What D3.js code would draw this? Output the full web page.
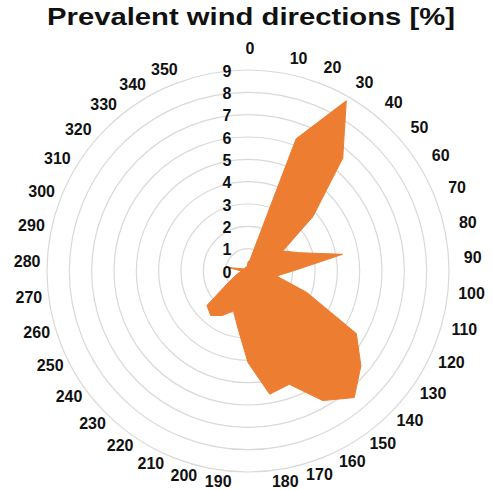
<!DOCTYPE html>
<html>
<head>
<meta charset="utf-8">
<script src="https://cdn.jsdelivr.net/npm/d3@7"></script>
<style>
  html, body { margin: 0; padding: 0; background: #fff; }
  svg { display: block; }
  text { font-family: "Liberation Sans", Arial, sans-serif; font-weight: bold; fill: #111; }
</style>
</head>
<body>
<svg id="chart" width="493" height="490"></svg>
<script>
// ---- data ----
const title = "Prevalent wind directions [%]";
const directions = [0,10,20,30,40,50,60,70,80,90,100,110,120,130,140,150,160,170,
                    180,190,200,210,220,230,240,250,260,270,280,290,300,310,320,330,340,350];
const directionLabels = directions.map(String);
const frequency = [0.4,0.5,6.3,8.8,6.6,3.8,1.8,2.4,4.3,2.0,1.3,2.8,5.6,6.6,7.4,6.7,5.4,5.6,
                   4.1,2.6,1.9,2.3,2.6,2.4,1.0,0.6,0.4,0.3,0.9,0.3,0.2,0.2,0.2,0.2,0.2,0.2];
const radialTicks = [0,1,2,3,4,5,6,7,8,9];

// ---- layout ----
const cx = 248, cy = 271, R = 201;
const svg = d3.select("#chart");

const r = d3.scaleLinear().domain([0, 9]).range([0, R]);
const ang = d3.scaleLinear().domain([0, 360]).range([0, 2 * Math.PI]);

// title (stretched like the reference)
svg.append("text")
  .attr("x", 251).attr("y", 25)
  .attr("text-anchor", "middle")
  .attr("textLength", 408)
  .attr("lengthAdjust", "spacingAndGlyphs")
  .style("font-size", "24px")
  .text(title);

const g = svg.append("g").attr("transform", `translate(${cx},${cy})`);

// grid circles
g.selectAll("circle.grid")
  .data(radialTicks.filter(d => d > 0))
  .join("circle")
  .attr("class", "grid")
  .attr("r", d => r(d))
  .attr("fill", "none")
  .attr("stroke", "#d9d9d9")
  .attr("stroke-width", 1.2);

// data polygon
const line = d3.lineRadial()
  .angle((d, i) => ang(directions[i]))
  .radius(d => r(d))
  .curve(d3.curveLinearClosed);

g.append("path")
  .datum(frequency)
  .attr("d", line)
  .attr("fill", "#ED7D31")
  .attr("stroke", "#ED7D31")
  .attr("stroke-width", 1);

// radial tick labels
g.selectAll("text.rtick")
  .data(radialTicks)
  .join("text")
  .attr("class", "rtick")
  .attr("x", -21)
  .attr("y", d => -r(d) + 1)
  .attr("text-anchor", "middle")
  .attr("dominant-baseline", "central")
  .style("font-size", "16px")
  .text(d => d);

// direction labels (placement follows the reference's spacing)
function labelAngle(a) {
  if (a === 0) return 0;
  if (a <= 180) return 13 + (a - 10) * 0.927;
  return 188.5 + (a - 190) * 0.927;
}
const lx = 2, ly = -2;
g.selectAll("text.dir")
  .data(directions)
  .join("text")
  .attr("class", "dir")
  .each(function(d, i) {
    const a = ang(labelAngle(d));
    const rr = (d === 0 ? 221 : 214) + 9 * Math.abs(Math.sin(a));
    d3.select(this)
      .attr("x", lx + rr * Math.sin(a))
      .attr("y", ly - rr * Math.cos(a))
      .text(directionLabels[i]);
  })
  .attr("text-anchor", "middle")
  .attr("dominant-baseline", "central")
  .style("font-size", "16px");
</script>
</body>
</html>
